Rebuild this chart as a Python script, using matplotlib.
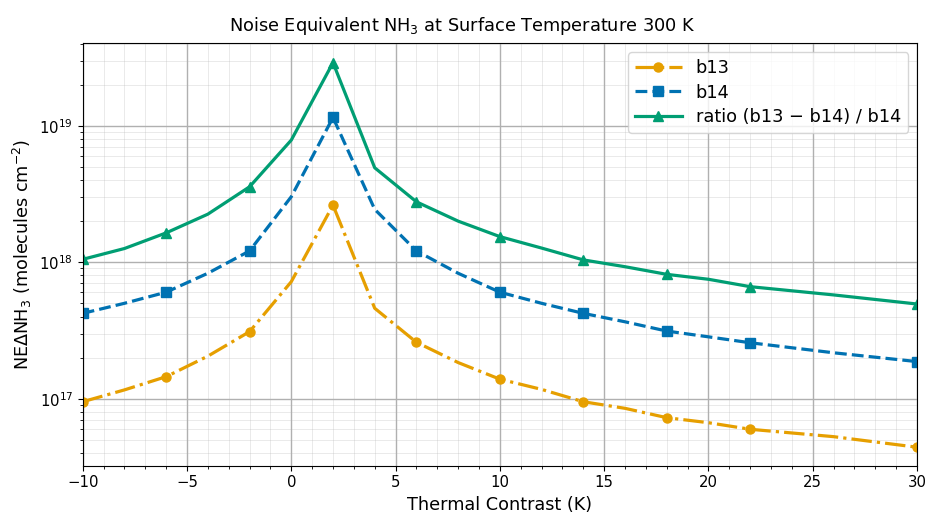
import matplotlib

matplotlib.use("Agg")
import matplotlib.pyplot as plt
from matplotlib.ticker import MultipleLocator

# thermal contrast grid (K)
contrast = [-10, -8, -6, -4, -2, 0, 2, 4, 6, 8, 10, 12, 14, 16, 18, 20, 22, 26, 30]

# noise equivalent NH3, molecules cm^-2
ne_b13 = [9.5e16, 1.16e17, 1.45e17, 2.05e17, 3.1e17, 7.2e17, 2.62e18, 4.6e17, 2.59e17, 1.84e17,
          1.39e17, 1.17e17, 9.5e16, 8.5e16, 7.26e16, 6.67e16, 5.97e16, 5.27e16, 4.41e16]
ne_b14 = [4.22e17, 5.0e17, 6.03e17, 8.3e17, 1.21e18, 3.02e18, 1.15e19, 2.44e18, 1.21e18, 8.3e17,
          6.03e17, 5.0e17, 4.22e17, 3.66e17, 3.13e17, 2.84e17, 2.57e17, 2.17e17, 1.87e17]
ne_ratio = [1.05e18, 1.26e18, 1.64e18, 2.25e18, 3.57e18, 7.85e18, 2.9e19, 4.92e18, 2.77e18, 2.0e18,
            1.54e18, 1.27e18, 1.04e18, 9.27e17, 8.15e17, 7.5e17, 6.62e17, 5.76e17, 4.94e17]

fig, ax = plt.subplots(figsize=(9.25, 5.14), dpi=100)
fig.subplots_adjust(left=0.0894, right=0.9914, top=0.9158, bottom=0.094)

ax.plot(contrast, ne_b13, "-.", color="#E69F00", lw=2.3, marker="o", ms=6.5, markevery=2, label="b13")
ax.plot(contrast, ne_b14, "--", color="#0072B2", lw=2.3, marker="s", ms=6.5, markevery=2, label="b14")
ax.plot(contrast, ne_ratio, "-", color="#009E73", lw=2.3, marker="^", ms=6.5, markevery=2,
        label="ratio (b13 \u2212 b14) / b14")

ax.set_yscale("log")
ax.set_xlim(-10, 30)
ax.set_ylim(3.23e16, 4.02e19)
ax.xaxis.set_minor_locator(MultipleLocator(1))
ax.grid(True, which="major", color="#b0b0b0", lw=1.0)
ax.grid(True, which="minor", color="#b0b0b0", lw=0.6, alpha=0.3)

# title is centred on the figure, not on the axes
fig.suptitle("Noise Equivalent NH$_3$ at Surface Temperature 300 K", fontsize=12.8,
             x=0.5, y=1 - 31 / 514, va="baseline")
ax.set_xlabel("Thermal Contrast (K)", fontsize=12.7)
ax.set_ylabel("NE$\\Delta$NH$_3$ (molecules cm$^{-2}$)", fontsize=12.7)
ax.tick_params(labelsize=10.7)
ax.legend(loc="upper right", fontsize=12.8, handlelength=2.6, labelspacing=0.35)

fig.savefig("out.png", dpi=100)
